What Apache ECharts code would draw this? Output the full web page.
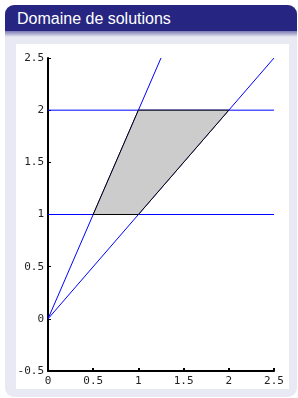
<!DOCTYPE html>
<html>
<head>
<meta charset="utf-8">
<script src="https://cdn.jsdelivr.net/npm/echarts@6/dist/echarts.min.js"></script>
<style>
  body { margin: 0; background: #ffffff; }
  .block {
    position: absolute; left: 5px; top: 5px; width: 292px; height: 392px;
    background: #e9e9f3; border-radius: 9px; overflow: hidden;
  }
  .block-title {
    height: 26px; background: #262682; color: #ffffff;
    font-family: "Liberation Sans", Arial, sans-serif; font-size: 16px;
    line-height: 27px; padding-left: 12px;
  }
  .shadow { height: 6px; background: linear-gradient(to bottom, #7a7ab4, #e9e9f3); }
  .panel {
    position: absolute; left: 16px; top: 44px; width: 273px; height: 345px; background: #ffffff;
  }
  #main { position: absolute; left: 0; top: 0; width: 298px; height: 398px; }
</style>
</head>
<body>
<div class="block">
  <div class="block-title">Domaine de solutions</div>
  <div class="shadow"></div>
</div>
<div class="panel"></div>
<div id="main"></div>
<script>
// domaine (sommets du polygone)
var region = [[0.5, 1], [1, 1], [2, 2], [1, 2]];
// droites de contraintes
var lineY2x = [[0, 0], [1.25, 2.5]];
var lineYx = [[0, 0], [2.5, 2.5]];
var lineY1 = [[0, 1], [2.5, 1]];
var lineY2 = [[0, 2], [2.5, 2]];

var chartDom = document.getElementById('main');
var myChart = echarts.init(chartDom);

var blue = '#0000ff';
function blueLine(data) {
  return {
    type: 'line', data: data, symbol: 'none', silent: true, z: 3,
    lineStyle: { color: blue, width: 1 }
  };
}

var option = {
  animation: false,
  grid: { left: 48, right: 24, top: 58, bottom: 27 },
  xAxis: {
    type: 'value', min: 0, max: 2.5, interval: 0.5,
    splitLine: { show: false },
    axisLine: { onZero: false, lineStyle: { color: '#000', width: 2 } },
    axisTick: { inside: true, length: 3, lineStyle: { color: '#000', width: 2 } },
    axisLabel: { color: '#222', fontFamily: 'DejaVu Sans Mono', fontSize: 11, margin: 5 }
  },
  yAxis: {
    type: 'value', min: -0.5, max: 2.5, interval: 0.5,
    splitLine: { show: false },
    axisLine: { onZero: false, lineStyle: { color: '#000', width: 2 } },
    axisTick: { inside: true, length: 3, lineStyle: { color: '#000', width: 1 } },
    axisLabel: { color: '#222', fontFamily: 'DejaVu Sans Mono', fontSize: 11, margin: 4 }
  },
  series: [
    blueLine(lineY2x),
    blueLine(lineYx),
    blueLine(lineY1),
    blueLine(lineY2),
    {
      type: 'custom', silent: true, z: 4,
      renderItem: function (params, api) {
        var pts = region.map(function (p) { return api.coord(p); });
        return {
          type: 'polygon',
          shape: { points: pts },
          style: { fill: '#cccccc', stroke: '#000000', lineWidth: 1 }
        };
      },
      data: [0]
    }
  ]
};

myChart.setOption(option);
</script>
</body>
</html>
